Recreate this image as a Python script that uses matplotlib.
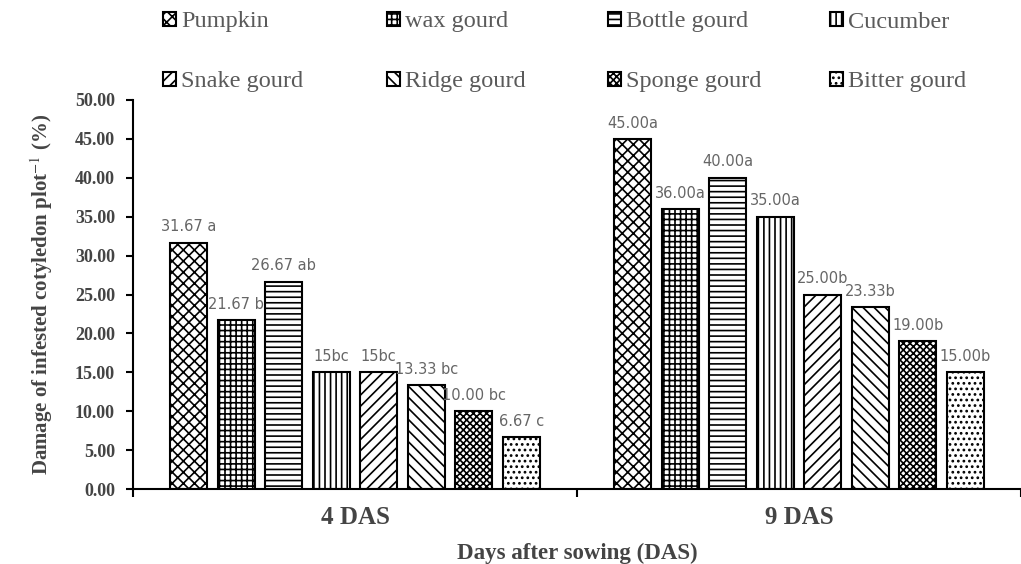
import matplotlib
matplotlib.use("Agg")
import matplotlib.pyplot as plt
import numpy as np
from matplotlib.patches import Patch

plt.rcParams.update({
    "font.family": ["Liberation Serif", "DejaVu Serif"],
    "mathtext.fontset": "stix",
    "hatch.linewidth": 1.2,
    "hatch.color": "black",
})

days = ["4 DAS", "9 DAS"]
crops = ["Pumpkin", "wax gourd", "Bottle gourd", "Cucumber",
         "Snake gourd", "Ridge gourd", "Sponge gourd", "Bitter gourd"]
damage_4das = [31.67, 21.67, 26.67, 15.00, 15.00, 13.33, 10.00, 6.67]
damage_9das = [45.00, 36.00, 40.00, 35.00, 25.00, 23.33, 19.00, 15.00]
labels_4das = ["31.67 a", "21.67 b", "26.67 ab", "15bc", "15bc", "13.33 bc", "10.00 bc", "6.67 c"]
labels_9das = ["45.00a", "36.00a", "40.00a", "35.00a", "25.00b", "23.33b", "19.00b", "15.00b"]
yticks = [0, 5, 10, 15, 20, 25, 30, 35, 40, 45, 50]

HATCH = ["xxx", "+++", "---", "|||", "///", "\\\\\\", "xxxxx", "..."]
TXT = "#444444"

fig = plt.figure(figsize=(10.21, 5.64), dpi=100)
ax = fig.add_axes([133 / 1021, 75 / 564, 1 - 133 / 1021, 389 / 564])

step, width = 0.107, 0.083
offsets = (np.arange(len(crops)) - 3.5) * step
vals = np.array([damage_4das, damage_9das])
labs = [labels_4das, labels_9das]
for i, crop in enumerate(crops):
    xs = np.arange(len(days)) + offsets[i]
    ax.bar(xs, vals[:, i], width, color="white", edgecolor="black",
           linewidth=1.5, hatch=HATCH[i], label=crop)
    for j, x in enumerate(xs):
        ax.annotate(labs[j][i], (x, vals[j, i]), xytext=(0, 6),
                    textcoords="offset points", ha="center", va="bottom",
                    fontsize=10.5, color="#666666", family="DejaVu Sans")

ax.set_xlim(-0.5, 1.5)
ax.set_ylim(0, 50)
ax.set_yticks(yticks)
ax.set_yticklabels([f"{v:.2f}" for v in yticks], fontsize=13, fontweight="bold",
                   color=TXT)
ax.set_xticks([0, 1])
ax.set_xticklabels(days, fontsize=18, fontweight="bold", color=TXT)
ax.set_xticks([-0.5, 0.5, 1.5], minor=True)
ax.tick_params(axis="x", which="major", length=0, pad=12)
ax.tick_params(axis="x", which="minor", length=6, width=1.5, direction="out")
ax.tick_params(axis="y", length=5, width=1.5, direction="out", pad=8)
for s in ["top", "right"]:
    ax.spines[s].set_visible(False)
for s in ["left", "bottom"]:
    ax.spines[s].set_linewidth(1.5)

ax.set_ylabel("Damage of infested cotyledon plot$^{-1}$ (%)", fontsize=15,
              fontweight="bold", color=TXT, labelpad=14)
ax.set_xlabel("Days after sowing (DAS)", fontsize=16.5, fontweight="bold",
              color=TXT, labelpad=10)

# legend: 2 rows x 4 columns, one small legend per entry for exact placement
col_x = [163, 387, 608, 830]
row_y = [22, 82]
for i, crop in enumerate(crops):
    h = Patch(facecolor="white", edgecolor="black", hatch=HATCH[i], linewidth=1.5)
    fig.legend([h], [crop], loc="center left",
               bbox_to_anchor=(col_x[i % 4] / 1021, 1 - row_y[i // 4] / 564),
               frameon=False, fontsize=17.5, handlelength=0.55, handleheight=0.55,
               handletextpad=0.2, borderpad=0, borderaxespad=0,
               labelcolor="#5a5a5a")

fig.savefig("out.png", dpi=100)
